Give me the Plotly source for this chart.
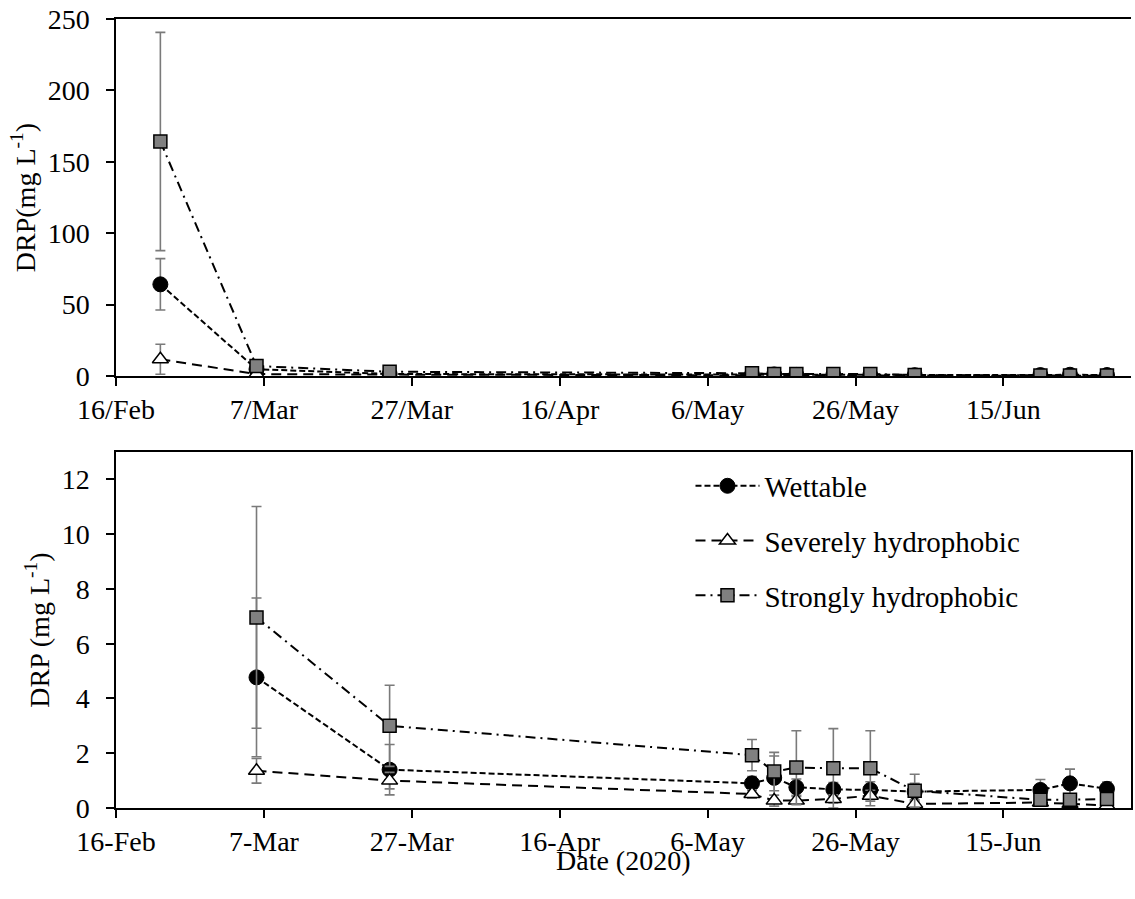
import plotly.graph_objects as go

# ---- data ----
dates = ["2020-02-22", "2020-03-06", "2020-03-24", "2020-05-12", "2020-05-15", "2020-05-18",
         "2020-05-23", "2020-05-28", "2020-06-03", "2020-06-20", "2020-06-24", "2020-06-29"]

wettable = [64.2, 4.77, 1.40, 0.90, 1.10, 0.76, 0.68, 0.66, 0.60, 0.66, 0.90, 0.70]
wettable_err = [18.0, 2.90, 0.92, 0.25, 0.80, 0.30, 0.25, 0.30, 0.30, 0.38, 0.52, 0.25]

severely = [11.7, 1.36, 1.00, 0.51, 0.27, 0.27, 0.33, 0.45, 0.15, 0.20, 0.15, 0.09]
severely_err = [10.5, 0.45, 0.30, 0.15, 0.20, 0.15, 0.15, 0.20, 0.10, 0.10, 0.10, 0.05]

strongly = [164.2, 6.96, 3.00, 1.93, 1.33, 1.48, 1.45, 1.45, 0.63, 0.30, 0.30, 0.33]
strongly_err = [76.4, 4.05, 1.48, 0.57, 0.70, 1.34, 1.45, 1.37, 0.60, 0.15, 0.15, 0.15]

series_names = ["Wettable", "Severely hydrophobic", "Strongly hydrophobic"]

tick_dates = ["2020-02-16", "2020-03-07", "2020-03-27", "2020-04-16", "2020-05-06", "2020-05-26", "2020-06-15"]
top_tick_text = ["16/Feb", "7/Mar", "27/Mar", "16/Apr", "6/May", "26/May", "15/Jun"]
bottom_tick_text = ["16-Feb", "7-Mar", "27-Mar", "16-Apr", "6-May", "26-May", "15-Jun"]

top_yticks = [0, 50, 100, 150, 200, 250]
bottom_yticks = [0, 2, 4, 6, 8, 10, 12]

# ---- styles ----
FONT = "Liberation Serif, Times New Roman, DejaVu Serif, serif"
FS = 28
ERR_COLOR = "#7a7a7a"

styles = [
    dict(line=dict(color="black", width=2, dash="6px,3px"),
         marker=dict(symbol="circle", size=15, color="black", line=dict(color="black", width=1))),
    dict(line=dict(color="black", width=2, dash="10px,6px"),
         marker=dict(symbol="triangle-up", size=14, color="white", line=dict(color="black", width=1.5))),
    dict(line=dict(color="black", width=2, dash="10px,5px,2px,5px"),
         marker=dict(symbol="square", size=13, color="#808080", line=dict(color="black", width=1.5))),
]

values = [wettable, severely, strongly]
errors = [wettable_err, severely_err, strongly_err]

fig = go.Figure()

for i in range(3):
    # top panel: all dates
    fig.add_trace(go.Scatter(
        x=dates, y=values[i], mode="lines+markers", name=series_names[i],
        line=styles[i]["line"], marker=styles[i]["marker"],
        error_y=dict(type="data", array=errors[i], visible=True, color=ERR_COLOR, thickness=1.6, width=5),
        xaxis="x", yaxis="y", showlegend=False,
    ))
for i in range(3):
    # bottom panel: from March on
    fig.add_trace(go.Scatter(
        x=dates[1:], y=values[i][1:], mode="lines+markers", name=series_names[i],
        line=styles[i]["line"], marker=styles[i]["marker"],
        error_y=dict(type="data", array=errors[i][1:], visible=True, color=ERR_COLOR, thickness=1.6, width=5),
        xaxis="x2", yaxis="y2", showlegend=True, legendgroup="g%d" % i,
    ))

x_range = ["2020-02-16", "2020-07-02 06:00"]

axis_common = dict(showline=True, linecolor="black", linewidth=1.5, ticks="outside",
                   ticklen=8, tickwidth=1.5, tickcolor="black", showgrid=False, zeroline=False,
                   tickfont=dict(family=FONT, size=FS, color="black"))

fig.update_layout(
    width=1135, height=899,
    margin=dict(l=116, r=2, t=19, b=91),
    paper_bgcolor="white", plot_bgcolor="white",
    font=dict(family=FONT, size=FS, color="black"),
    xaxis=dict(domain=[0, 1], anchor="y", range=x_range, tickvals=tick_dates, ticktext=top_tick_text,
               mirror=True, **axis_common),
    yaxis=dict(domain=[0.5475, 1], anchor="x", range=[0, 250], tickvals=top_yticks, ticklabelstandoff=11,
               title=dict(text="DRP(mg L<sup>-1</sup>)", font=dict(family=FONT, size=FS), standoff=4),
               **axis_common),
    xaxis2=dict(domain=[0, 1], anchor="y2", range=x_range, tickvals=tick_dates, ticktext=bottom_tick_text,
                mirror=True, **axis_common),
    yaxis2=dict(domain=[0, 0.4512], anchor="x2", range=[0, 13], tickvals=bottom_yticks, mirror=True,
                ticklabelstandoff=11,
                title=dict(text="DRP (mg L<sup>-1</sup>)", font=dict(family=FONT, size=FS), standoff=4),
                **axis_common),
    legend=dict(x=0.566, y=0.4405, xanchor="left", yanchor="top", bgcolor="rgba(0,0,0,0)",
                font=dict(family=FONT, size=29, color="black"), itemwidth=64, tracegroupgap=14,
                itemsizing="trace"),
    showlegend=True,
    annotations=[dict(text="Date (2020)", xref="paper", yref="paper", x=0.5, y=0,
                      xanchor="center", yanchor="middle", yshift=-52, showarrow=False,
                      font=dict(family=FONT, size=FS, color="black"))],
)

fig.write_html("out.html")
